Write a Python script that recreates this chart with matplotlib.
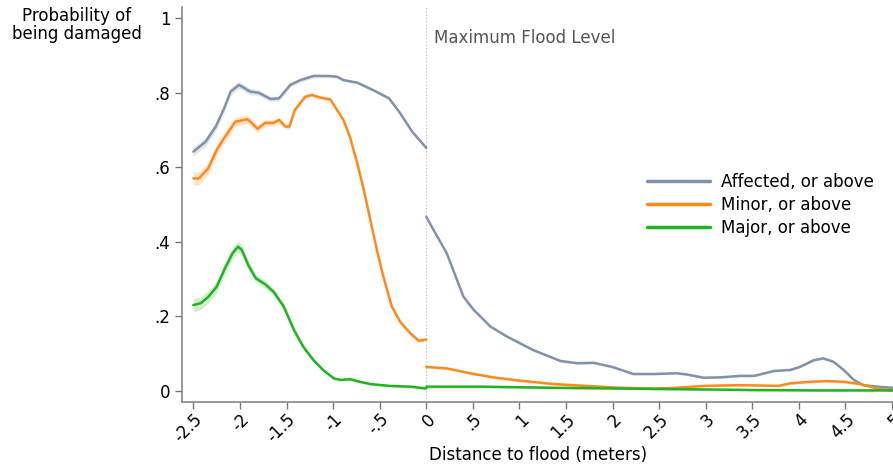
import numpy as np
import matplotlib
matplotlib.use("Agg")
import matplotlib.pyplot as plt

# Distance to flood (meters), left of the maximum flood level
x_left_affected = [-2.5, -2.37, -2.26, -2.17, -2.10, -2.01, -1.89, -1.80, -1.67, -1.58, -1.46,
                   -1.35, -1.21, -1.05, -0.96, -0.89, -0.74, -0.57, -0.40, -0.28, -0.15, 0.0]
y_left_affected = [0.642, 0.668, 0.709, 0.758, 0.803, 0.821, 0.803, 0.800, 0.783, 0.785, 0.821,
                   0.834, 0.845, 0.845, 0.843, 0.834, 0.827, 0.807, 0.785, 0.745, 0.695, 0.652]
ci_left_affected = [0.012, 0.012, 0.011, 0.011, 0.010, 0.010, 0.009, 0.008, 0.007, 0.007, 0.006,
                    0.005, 0.005, 0.004, 0.004, 0.004, 0.004, 0.004, 0.004, 0.004, 0.004, 0.004]

x_left_minor = [-2.5, -2.44, -2.34, -2.25, -2.17, -2.05, -1.92, -1.87, -1.81, -1.73, -1.64, -1.58,
                -1.51, -1.47, -1.41, -1.30, -1.23, -1.14, -1.03, -0.89, -0.82, -0.74, -0.67,
                -0.60, -0.53, -0.46, -0.37, -0.28, -0.17, -0.08, 0.0]
y_left_minor = [0.570, 0.570, 0.597, 0.646, 0.678, 0.722, 0.729, 0.718, 0.703, 0.719, 0.719, 0.727,
                0.709, 0.709, 0.754, 0.789, 0.794, 0.787, 0.782, 0.727, 0.682, 0.610, 0.539,
                0.458, 0.378, 0.306, 0.226, 0.185, 0.154, 0.134, 0.138]
ci_left_minor = [0.018, 0.017, 0.016, 0.015, 0.014, 0.013, 0.012, 0.011, 0.010, 0.009, 0.008, 0.008,
                 0.007, 0.007, 0.006, 0.006, 0.005, 0.005, 0.005, 0.005, 0.005, 0.005, 0.005,
                 0.005, 0.005, 0.005, 0.005, 0.005, 0.005, 0.005, 0.005]

x_left_major = [-2.5, -2.42, -2.34, -2.25, -2.16, -2.08, -2.02, -1.98, -1.91, -1.83, -1.73, -1.64,
                -1.53, -1.42, -1.32, -1.21, -1.10, -0.99, -0.92, -0.82, -0.71, -0.60, -0.39,
                -0.17, 0.0]
y_left_major = [0.230, 0.235, 0.252, 0.279, 0.329, 0.369, 0.387, 0.378, 0.337, 0.302, 0.286, 0.266,
                0.226, 0.163, 0.118, 0.082, 0.054, 0.033, 0.029, 0.031, 0.024, 0.018, 0.013,
                0.011, 0.006]
ci_left_major = [0.018, 0.017, 0.016, 0.015, 0.015, 0.015, 0.014, 0.013, 0.012, 0.011, 0.010, 0.009,
                 0.008, 0.007, 0.006, 0.005, 0.004, 0.003, 0.003, 0.003, 0.003, 0.003, 0.003,
                 0.003, 0.003]

# Right of the maximum flood level
x_right_affected = [0.0, 0.08, 0.22, 0.40, 0.51, 0.69, 0.87, 1.15, 1.44, 1.62, 1.80, 2.01, 2.22,
                    2.44, 2.69, 2.79, 2.98, 3.16, 3.37, 3.52, 3.73, 3.91, 4.01, 4.16, 4.26,
                    4.37, 4.48, 4.59, 4.69, 4.84, 5.0]
y_right_affected = [0.467, 0.431, 0.369, 0.252, 0.217, 0.172, 0.145, 0.109, 0.080, 0.074, 0.075,
                    0.063, 0.045, 0.045, 0.047, 0.044, 0.035, 0.036, 0.040, 0.040, 0.053, 0.056,
                    0.064, 0.082, 0.087, 0.078, 0.056, 0.029, 0.015, 0.011, 0.008]

x_right_minor = [0.0, 0.22, 0.47, 0.72, 1.01, 1.37, 1.72, 2.08, 2.44, 2.62, 2.98, 3.33, 3.62,
                 3.78, 3.91, 4.12, 4.30, 4.48, 4.66, 4.84, 5.0]
y_right_minor = [0.064, 0.060, 0.047, 0.036, 0.027, 0.018, 0.013, 0.008, 0.006, 0.007, 0.013,
                 0.015, 0.014, 0.013, 0.020, 0.024, 0.026, 0.024, 0.018, 0.006, 0.000]

x_right_major = [0.0, 0.59, 1.37, 2.08, 2.79, 3.5, 4.2, 5.0]
y_right_major = [0.011, 0.011, 0.008, 0.006, 0.004, 0.002, 0.001, 0.001]

labels = ["Affected, or above", "Minor, or above", "Major, or above"]
colors = ["#8193aa", "#ff8a1c", "#22b322"]

x_ticks = [-2.5, -2, -1.5, -1, -0.5, 0, 0.5, 1, 1.5, 2, 2.5, 3, 3.5, 4, 4.5, 5]
x_ticklabels = ["-2.5", "-2", "-1.5", "-1", "-.5", "0", ".5", "1", "1.5", "2", "2.5",
                "3", "3.5", "4", "4.5", "5"]
y_ticks = [0, 0.2, 0.4, 0.6, 0.8, 1]
y_ticklabels = ["0", ".2", ".4", ".6", ".8", "1"]


fig = plt.figure(figsize=(8.93, 4.69), dpi=100)
ax = fig.add_axes([0.204, 0.143, 0.796, 0.842])

left = [(x_left_affected, y_left_affected, ci_left_affected),
        (x_left_minor, y_left_minor, ci_left_minor),
        (x_left_major, y_left_major, ci_left_major)]
right = [(x_right_affected, y_right_affected),
         (x_right_minor, y_right_minor),
         (x_right_major, y_right_major)]

for (xl, yl, cl), (xr, yr), col, lab in zip(left, right, colors, labels):
    xl = np.array(xl)
    yl = np.array(yl)
    cl = np.array(cl)
    ax.fill_between(xl, yl - cl, yl + cl, color=col, alpha=0.22, lw=0)
    ax.plot(xl, yl, color=col, lw=1.8, label=lab, solid_capstyle="round")
    ax.fill_between(xr, np.array(yr) - 0.003, np.array(yr) + 0.003, color=col, alpha=0.22, lw=0)
    ax.plot(xr, yr, color=col, lw=1.8, solid_capstyle="round")

ax.axvline(0, color="#bbbbbb", lw=0.8, ls=(0, (1, 2)), zorder=0)
ax.text(0.08, 0.948, "Maximum Flood Level", color="#555555", fontsize=12,
        va="center", ha="left")

ax.set_xlim(-2.62, 5.01)
ax.set_ylim(-0.03, 1.03)
ax.set_xticks(x_ticks)
ax.set_xticklabels(x_ticklabels, rotation=45, ha="right", rotation_mode="anchor")
ax.set_yticks(y_ticks)
ax.set_yticklabels(y_ticklabels)
ax.tick_params(axis="both", colors="#777777", labelcolor="black", labelsize=12,
               length=5, width=1)
ax.tick_params(axis="x", pad=1)

for side in ["top", "right"]:
    ax.spines[side].set_visible(False)
for side in ["left", "bottom"]:
    ax.spines[side].set_color("#888888")
    ax.spines[side].set_linewidth(1.2)

ax.set_xlabel("Distance to flood (meters)", fontsize=12, labelpad=0)
fig.text(0.086, 0.947, "Probability of\nbeing damaged", fontsize=12, ha="center",
         va="center", linespacing=0.95)

leg = ax.legend(loc="center left", bbox_to_anchor=(0.633, 0.499), frameon=False,
                fontsize=12, handlelength=3.8, handletextpad=0.65, labelspacing=0.3)
for h in leg.legend_handles:
    h.set_linewidth(2.5)

fig.savefig("out.png", dpi=100)
